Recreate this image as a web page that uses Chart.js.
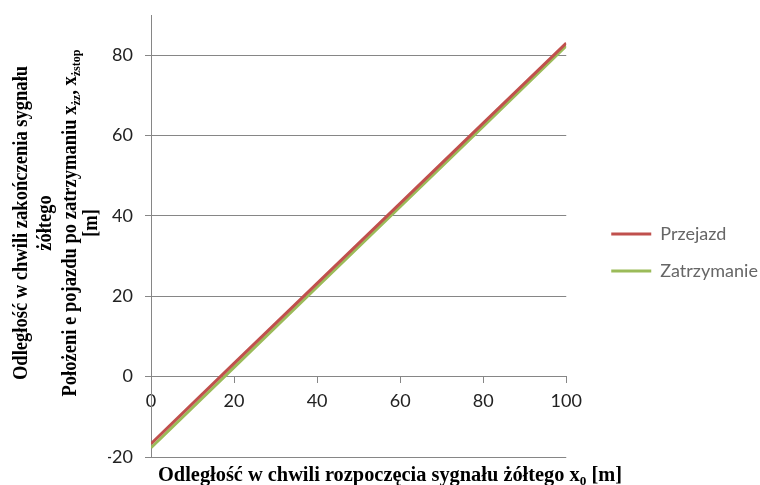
<!DOCTYPE html>
<html>
<head>
<meta charset="utf-8">
<script src="https://cdn.jsdelivr.net/npm/chart.js@4/dist/chart.umd.min.js"></script>
<style>
  html, body { margin: 0; padding: 0; background: #fff; }
  #wrap { width: 760px; height: 485px; position: relative; }
</style>
</head>
<body>
<div id="wrap"><canvas id="c" width="760" height="485"></canvas></div>
<script>
// Distance at the start of the yellow signal, x0 [m]
const startDistance = [0, 20, 40, 60, 80, 100];
// Vehicle position at the end of yellow (passing through) [m]
const przejazd = [-16.7, 3.3, 23.2, 43.1, 63.1, 83.0];
// Vehicle position after stopping [m]
const zatrzymanie = [-17.7, 2.3, 22.3, 42.3, 62.3, 82.3];
const seriesNames = ['Przejazd', 'Zatrzymanie'];
const xTicks = [0, 20, 40, 60, 80, 100];
const yTicks = [-20, 0, 20, 40, 60, 80];

const RED = '#C0504D';
const GREEN = '#9BBB59';
const GRID = '#868686';
const SERIF = '"Liberation Serif", "DejaVu Serif", serif';
const TITLE_FONT = 'bold 20px ' + SERIF;
const SUB_FONT = 'bold 13px ' + SERIF;

function richWidth(ctx, pieces) {
  let w = 0;
  pieces.forEach(p => { ctx.font = p.sub ? SUB_FONT : TITLE_FONT; w += ctx.measureText(p.t).width; });
  return w;
}

// Draw a run of text pieces centred on (0, baseline); subscripts are smaller and lowered.
function drawRich(ctx, pieces, baseline) {
  let cx = -richWidth(ctx, pieces) / 2;
  pieces.forEach(p => {
    ctx.font = p.sub ? SUB_FONT : TITLE_FONT;
    ctx.fillText(p.t, cx, p.sub ? baseline + 4 : baseline);
    cx += ctx.measureText(p.t).width;
  });
}

const xTitle = [
  {t: 'Odległość w chwili rozpoczęcia sygnału żółtego x'},
  {t: '0', sub: true},
  {t: ' [m]'}
];
const yTitle = [
  [{t: 'Odległość w chwili zakończenia sygnału'}],
  [{t: 'żółtego'}],
  [{t: 'Położeni e pojazdu po zatrzymaniu x'}, {t: 'żz', sub: true}, {t: ', x'}, {t: 'żstop', sub: true}],
  [{t: '[m]'}]
];

const axisTitles = {
  id: 'axisTitles',
  afterDraw(chart) {
    const ctx = chart.ctx;
    ctx.save();
    ctx.fillStyle = '#000';
    ctx.textBaseline = 'alphabetic';
    ctx.textAlign = 'left';
    // horizontal axis title
    ctx.save();
    ctx.translate(390, 481);
    ctx.scale(464 / richWidth(ctx, xTitle), 1);
    drawRich(ctx, xTitle, 0);
    ctx.restore();
    // vertical axis title, rotated and set in four lines
    ctx.save();
    ctx.translate(0, 223);
    ctx.rotate(-Math.PI / 2);
    ctx.scale(347 / richWidth(ctx, yTitle[2]), 1);
    const baselines = [27, 51, 76, 97];
    yTitle.forEach((line, i) => drawRich(ctx, line, baselines[i]));
    ctx.restore();
    ctx.restore();
  }
};

// Leaves a gap between the plot area and the legend entries,
// letting the legend run to the right edge of the canvas.
const legendGap = {
  id: 'legendGap',
  afterLayout(chart) {
    const lg = chart.legend;
    if (lg) {
      lg.left += 26;
      lg.right = chart.width;
      lg.width = lg.right - lg.left;
    }
  }
};

const toPoints = vals => startDistance.map((x, i) => ({x, y: vals[i]}));

new Chart(document.getElementById('c'), {
  type: 'line',
  data: {
    datasets: [
      { label: seriesNames[0], data: toPoints(przejazd), borderColor: RED, backgroundColor: RED,
        borderWidth: 3, pointRadius: 0, tension: 0 },
      { label: seriesNames[1], data: toPoints(zatrzymanie), borderColor: GREEN, backgroundColor: GREEN,
        borderWidth: 3, pointRadius: 0, tension: 0 }
    ]
  },
  options: {
    responsive: false,
    animation: false,
    layout: { padding: { left: 108, top: 15, bottom: 28, right: 41 } },
    plugins: {
      tooltip: { enabled: false },
      legend: {
        position: 'right',
        title: { display: true, text: '', padding: { top: 21, bottom: 0 }, font: { size: 10 } },
        labels: {
          boxWidth: 40,
          boxHeight: 3,
          padding: 19,
          color: '#222',
          font: { family: 'Lato', size: 18 },
          generateLabels(chart) {
            return chart.data.datasets.map((ds, i) => ({
              text: ds.label, fillStyle: ds.borderColor, strokeStyle: ds.borderColor,
              lineWidth: 0, datasetIndex: i, hidden: false
            }));
          }
        }
      }
    },
    scales: {
      x: {
        type: 'linear',
        position: { y: 0 },
        min: 0, max: 100,
        afterBuildTicks(scale) { scale.ticks = xTicks.map(v => ({value: v})); },
        ticks: { color: '#222', font: { family: 'Lato', size: 18 }, padding: 8, maxRotation: 0 },
        grid: { drawOnChartArea: false, drawTicks: true, tickLength: 6, color: GRID },
        border: { display: true, color: GRID, width: 1 }
      },
      y: {
        type: 'linear',
        min: -20, max: 90,
        afterBuildTicks(scale) { scale.ticks = yTicks.map(v => ({value: v})); },
        afterFit(scale) { scale.width = 43; scale.paddingTop = 0; scale.paddingBottom = 0; },
        ticks: { color: '#222', font: { family: 'Lato', size: 18 }, padding: 12 },
        grid: { color: GRID, tickLength: 6, lineWidth: 1 },
        border: { display: true, color: GRID, width: 1 }
      }
    }
  },
  plugins: [axisTitles, legendGap]
});
</script>
</body>
</html>
